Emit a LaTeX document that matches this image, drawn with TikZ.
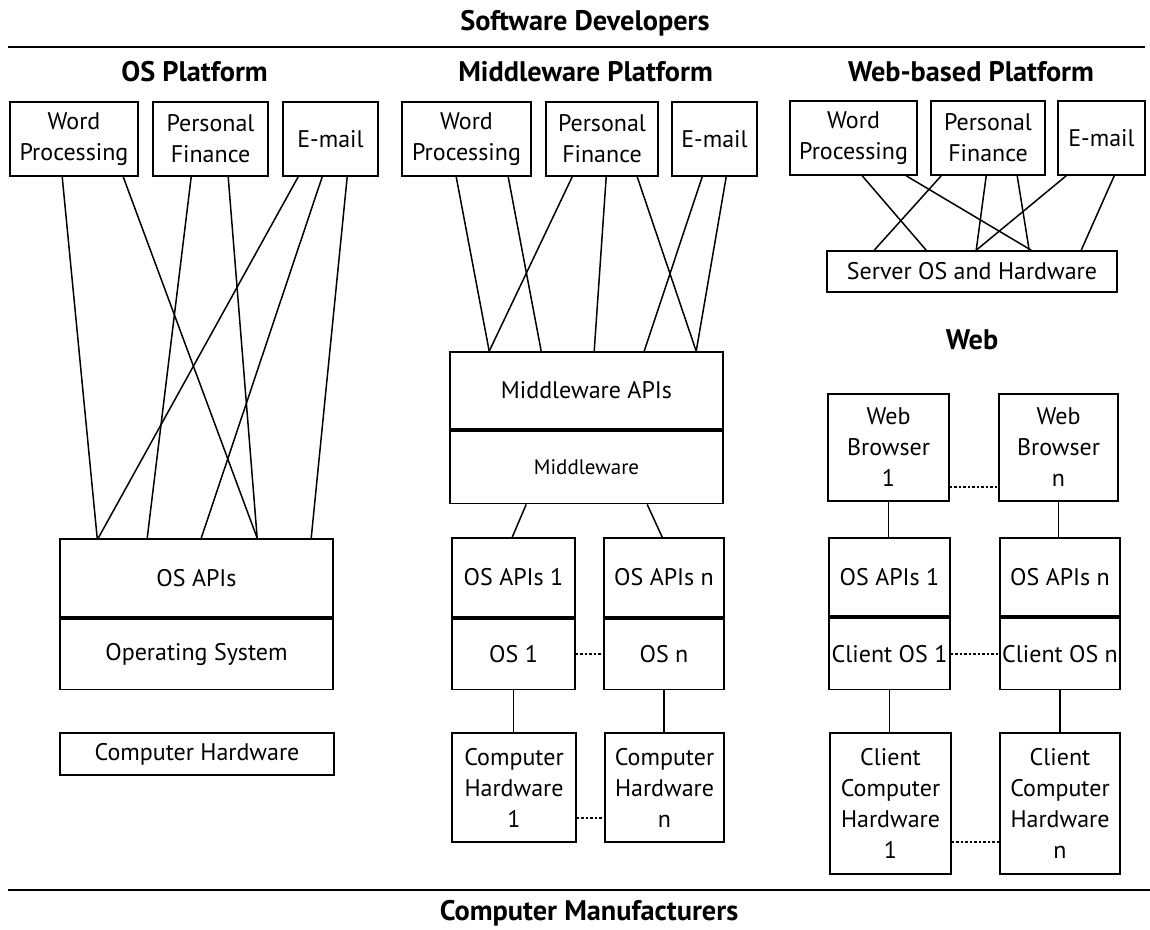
\documentclass[tikz,border=0pt]{standalone}
\usepackage{fontspec}
\setmainfont{PT Sans}
\usetikzlibrary{positioning}

\begin{document}
\begin{tikzpicture}[x=1pt,y=-1pt,
	box/.style={draw, line width=1.6pt, align=center, inner sep=0pt,
		font=\fontsize{24}{31}\selectfont},
	title/.style={inner sep=0pt, font=\bfseries\fontsize{28.3}{32}\selectfont},
	link/.style={line width=1.5pt},
	dots/.style={line width=2pt, dash pattern=on 2.5pt off 2pt},
	split/.style={line width=4.5pt}]
	\useasboundingbox (0,0) rectangle (1150,929);
	% headings and rules
	\node[title] (sd) at (585,23) {Software Developers};
	\node[title] (cm) at (589,913) {Computer Manufacturers};
	\draw[line width=2pt] (8,47) -- (1145,47);
	\draw[line width=2pt] (8,890) -- (1150,890);
	\node[title] (tos) at (194.5,72) {OS Platform};
	\node[title] (tmw) at (585.5,72) {Middleware Platform};
	\node[title] (tweb) at (971,72) {Web-based Platform};
	\node[title] (tw) at (972,340) {Web};
	% OS platform
	\node[box, minimum width=128, minimum height=74] (owp) at (74,139) {Word\\Processing};
	\node[box, minimum width=115, minimum height=74] (opf) at (210.5,139) {Personal\\Finance};
	\node[box, minimum width=95, minimum height=74] (oem) at (330.5,139) {E-mail};
	\node[box, minimum width=273, minimum height=78] (oapi) at (196.5,578) {OS APIs};
	\node[box, minimum width=273, minimum height=71, below=0pt of oapi] (osys) {Operating System};
	\draw[split] (oapi.south west) -- (oapi.south east);
	\node[box, minimum width=274, minimum height=42] (ohw) at (197,754) {Computer Hardware};
	\foreach \a/\i/\b/\j in {owp/53/oapi/38, owp/114/oapi/198, opf/39/oapi/88, opf/76/oapi/198,
		oem/16/oapi/39, oem/40/oapi/142, oem/65/oapi/252}
		\draw[link] ([xshift=\i]\a.south west) -- ([xshift=\j]\b.north west);
	% middleware platform
	\node[box, minimum width=129, minimum height=74] (mwp) at (466.5,139) {Word\\Processing};
	\node[box, minimum width=112, minimum height=74] (mpf) at (602,139) {Personal\\Finance};
	\node[box, minimum width=85, minimum height=74] (mem) at (714.5,139) {E-mail};
	\node[box, minimum width=273, minimum height=77] (mapi) at (586.5,390.5) {Middleware APIs};
	\node[box, minimum width=273, minimum height=73, below=0pt of mapi,
		font=\fontsize{21}{25}\selectfont] (mw) {Middleware};
	\draw[split] (mapi.south west) -- (mapi.south east);
	\foreach \a/\i/\b/\j in {mwp/55/mapi/40, mwp/107/mapi/92, mpf/27/mapi/40, mpf/61/mapi/145,
		mpf/92/mapi/247, mem/31/mapi/195, mem/55/mapi/247}
		\draw[link] ([xshift=\i]\a.south west) -- ([xshift=\j]\b.north west);
	\node[box, minimum width=123, minimum height=79] (mapi1) at (513.5,577.5) {OS APIs 1};
	\node[box, minimum width=123, minimum height=71, below=0pt of mapi1] (mos1) {OS 1};
	\node[box, minimum width=120, minimum height=79] (mapin) at (664,577.5) {OS APIs n};
	\node[box, minimum width=120, minimum height=71, below=0pt of mapin] (mosn) {OS n};
	\draw[split] (mapi1.south west) -- (mapi1.south east);
	\draw[split] (mapin.south west) -- (mapin.south east);
	\draw[link] ([xshift=77]mw.south west) -- ([xshift=61]mapi1.north west);
	\draw[link] ([xshift=198]mw.south west) -- ([xshift=59]mapin.north west);
	\draw[dots] (mos1.east) -- (mosn.west);
	\node[box, minimum width=124, minimum height=109] (mhw1) at (514,787.5) {Computer\\Hardware\\1};
	\node[box, minimum width=119, minimum height=109] (mhwn) at (664.5,787.5) {Computer\\Hardware\\n};
	\draw[link] (mos1.south) -- (mos1.south |- mhw1.north);
	\draw[link] (mosn.south) -- (mosn.south |- mhwn.north);
	\draw[dots] ([yshift=-30]mhw1.east) -- ([yshift=-30]mhwn.west);
	% web-based platform
	\node[box, minimum width=127, minimum height=74] (wwp) at (853.5,138) {Word\\Processing};
	\node[box, minimum width=114, minimum height=74] (wpf) at (988,138) {Personal\\Finance};
	\node[box, minimum width=87, minimum height=74] (wem) at (1101.5,138) {E-mail};
	\node[box, minimum width=290, minimum height=41] (srv) at (972,271.5) {Server OS and Hardware};
	\foreach \a/\i/\b/\j in {wwp/73/srv/100, wwp/117/srv/205, wpf/11/srv/48, wpf/56/srv/150,
		wpf/87/srv/203, wem/9/srv/150, wem/57/srv/255}
		\draw[link] ([xshift=\i]\a.south west) -- ([xshift=\j]\b.north west);
	% web
	\node[box, minimum width=121, minimum height=107] (br1) at (888.5,447.5) {Web\\Browser\\1};
	\node[box, minimum width=119, minimum height=107] (brn) at (1058.5,447.5) {Web\\Browser\\n};
	\draw[dots] ([yshift=-39.5]br1.east) -- ([yshift=-39.5]brn.west);
	\node[box, minimum width=121, minimum height=78] (wapi1) at (889.5,577) {OS APIs 1};
	\node[box, minimum width=121, minimum height=72, below=0pt of wapi1] (cos1) {Client OS 1};
	\node[box, minimum width=120, minimum height=78] (wapin) at (1060,577) {OS APIs n};
	\node[box, minimum width=120, minimum height=72, below=0pt of wapin] (cosn) {Client OS n};
	\draw[split] (wapi1.south west) -- (wapi1.south east);
	\draw[split] (wapin.south west) -- (wapin.south east);
	\draw[link] (br1.south) -- (br1.south |- wapi1.north);
	\draw[link] (brn.south) -- (brn.south |- wapin.north);
	\draw[dots] (cos1.east) -- (cosn.west);
	\node[box, minimum width=121, minimum height=141] (chw1) at (890.5,803.5) {Client\\Computer\\Hardware\\1};
	\node[box, minimum width=120, minimum height=141] (chwn) at (1060,803.5) {Client\\Computer\\Hardware\\n};
	\draw[link] (cos1.south) -- (cos1.south |- chw1.north);
	\draw[link] (cosn.south) -- (cosn.south |- chwn.north);
	\draw[dots] ([yshift=-38.5]chw1.east) -- ([yshift=-38.5]chwn.west);
\end{tikzpicture}
\end{document}
